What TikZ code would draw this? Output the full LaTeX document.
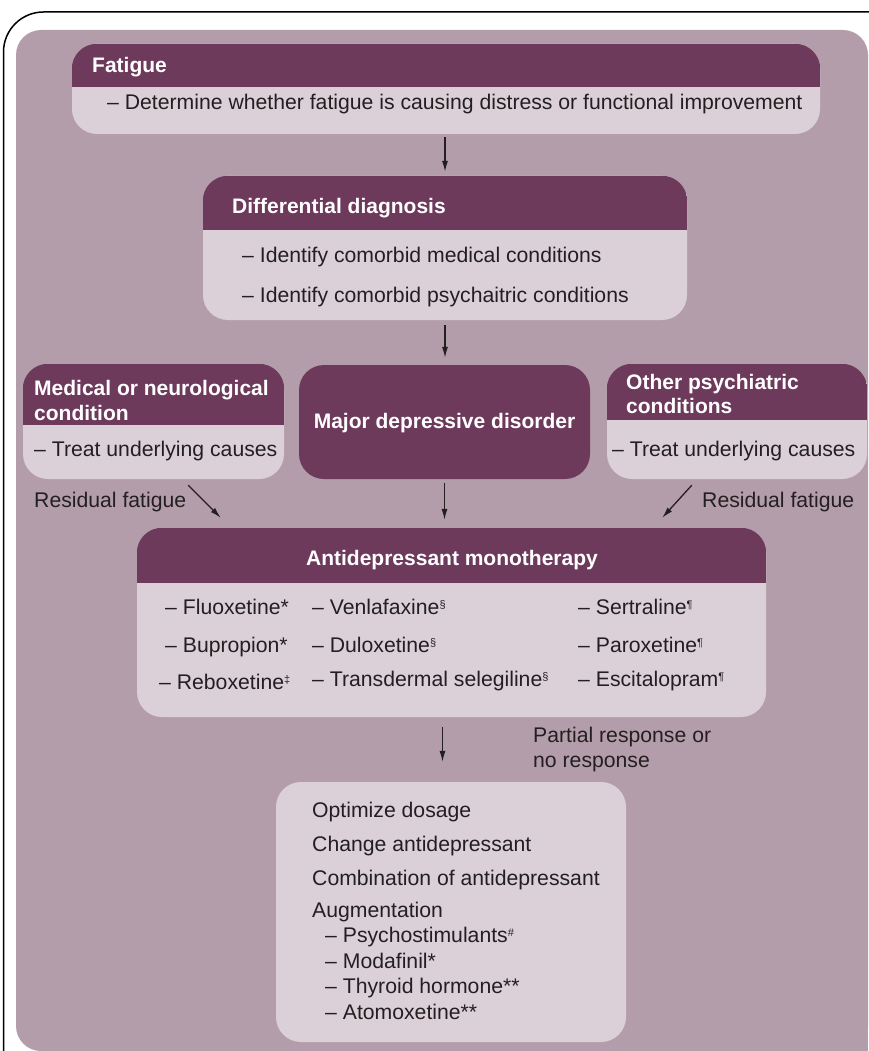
\documentclass[tikz,border=0pt]{standalone}
\usepackage{fontspec}
\setmainfont{Liberation Sans}
\usetikzlibrary{calc,arrows.meta}
\definecolor{box head}{RGB}{110,58,92}
\definecolor{box body}{RGB}{220,208,216}
\definecolor{panel}{RGB}{180,157,170}
\definecolor{ink}{RGB}{35,31,32}
\def\panelarea{(16,30) rectangle (868,1051)}
\tikzset{panelbox/.style={fill=box body, rounded corners=25pt, inner sep=0pt},
    darkbox/.style={fill=box head, rounded corners=25pt, inner sep=0pt},
    headtext/.style={text=white, font=\bfseries\fontsize{21}{25}\selectfont, anchor=base west, inner sep=0pt},
    bodytext/.style={text=ink, font=\fontsize{21.2}{25}\selectfont, anchor=base west, inner sep=0pt},
    link/.style={draw=ink, line width=1.3pt, -{Latex[length=11pt,width=6pt]}}}
% dark strip across the top of a box
\newcommand{\boxheader}[2]{%
    \begin{scope}
        \clip[rounded corners=25pt] (#1.north west) rectangle (#1.south east);
        \fill[box head] (#1.north west) rectangle ($(#1.north east)+(0,#2)$);
    \end{scope}}
% small raised footnote sign
\newcommand{\fnsign}[1]{\raisebox{5.5pt}{\fontsize{11}{11}\selectfont #1}}

\begin{document}
\begin{tikzpicture}[x=1pt,y=-1pt]
    \useasboundingbox (0,0) rectangle (868,1051);
    \fill[white] (0,0) rectangle (868,1051);
    \draw[line width=1.5pt, rounded corners=40pt] (3.5,1060) -- (3.5,12) -- (890,12);
    \fill[panel, rounded corners=25pt] \panelarea;
    \fill[panel] (820,1000) rectangle (868,1051);

    % boxes
    \node[panelbox, minimum width=748pt, minimum height=90pt]  (fatigue) at (446,89) {};
    \node[panelbox, minimum width=484pt, minimum height=144pt] (diff)    at (445,248) {};
    \node[panelbox, minimum width=261pt, minimum height=115pt] (medical) at (153.5,421.5) {};
    \node[darkbox,  minimum width=291pt, minimum height=114pt] (mdd)     at (444.5,422) {};
    \node[panelbox, minimum width=260pt, minimum height=115pt] (other)   at (737,421.5) {};
    \node[panelbox, minimum width=629pt, minimum height=189pt] (antidep) at (451.5,622.5) {};
    \node[panelbox, minimum width=350pt, minimum height=260pt] (options) at (451,912) {};
    \boxheader{fatigue}{43}
    \boxheader{diff}{54}
    \boxheader{medical}{61}
    \boxheader{other}{56}
    \boxheader{antidep}{55}

    % texts
    \node[headtext] (fatiguet) at (92,73) {Fatigue};
    \node[bodytext] (fatigueb) at (107,110) {-- Determine whether fatigue is causing distress or functional improvement};
    \node[headtext] (difft) at (232,213) {Differential diagnosis};
    \node[bodytext] (diffa) at (242,262) {-- Identify comorbid medical conditions};
    \node[bodytext] (diffb) at (242,302) {-- Identify comorbid psychaitric conditions};
    \node[headtext] (medicalt) at (34,395) {Medical or neurological};
    \node[headtext] (medicalu) at (34,420) {condition};
    \node[bodytext] (medicalb) at (34,456) {-- Treat underlying causes};
    \node[headtext, anchor=base] (mddt) at (444.5,428) {Major depressive disorder};
    \node[headtext] (othert) at (626,389) {Other psychiatric};
    \node[headtext] (otheru) at (626,413) {conditions};
    \node[bodytext] (otherb) at (612,456) {-- Treat underlying causes};
    \node[bodytext] (resleft) at (34,507) {Residual fatigue};
    \node[bodytext] (resright) at (702,507) {Residual fatigue};
    \node[headtext, anchor=base] (antidept) at (452,565) {Antidepressant monotherapy};
    \node[bodytext] (fluox) at (165,614) {-- Fluoxetine*};
    \node[bodytext] (bupro) at (165,652) {-- Bupropion*};
    \node[bodytext] (rebox) at (159,689) {-- Reboxetine\fnsign{\ddag}};
    \node[bodytext] (venla) at (312,614) {-- Venlafaxine\fnsign{\S}};
    \node[bodytext] (dulox) at (312,652) {-- Duloxetine\fnsign{\S}};
    \node[bodytext] (seleg) at (312,686) {-- Transdermal selegiline\fnsign{\S}};
    \node[bodytext] (sertr) at (578,614) {-- Sertraline\fnsign{\P}};
    \node[bodytext] (parox) at (578,652) {-- Paroxetine\fnsign{\P}};
    \node[bodytext] (escit) at (578,686) {-- Escitalopram\fnsign{\P}};
    \node[bodytext] (partial) at (533,742) {Partial response or};
    \node[bodytext] (nonresp) at (533,767) {no response};
    \node[bodytext] (optdose) at (312,817) {Optimize dosage};
    \node[bodytext] (change)  at (312,851) {Change antidepressant};
    \node[bodytext] (combi)   at (312,885) {Combination of antidepressant};
    \node[bodytext] (augm)    at (312,917) {Augmentation};
    \node[bodytext] (psycho)  at (325,942) {-- Psychostimulants\fnsign{\#}};
    \node[bodytext] (modaf)   at (325,968) {-- Modafinil*};
    \node[bodytext] (thyro)   at (325,993) {-- Thyroid hormone**};
    \node[bodytext] (atomo)   at (325,1019) {-- Atomoxetine**};

    % connectors
    \draw[link, shorten <=3pt, shorten >=4pt] (fatigue.south -| diff.north) -- (diff.north);
    \draw[link, shorten <=5pt, shorten >=7pt] (diff.south) -- (diff.south |- mdd.north);
    \draw[link, shorten <=4pt, shorten >=8pt] (mdd.south) -- (mdd.south |- antidep.north);
    \draw[link] ($(medical.south east)+(-96,6)$) -- ($(antidep.north west)+(84,-10)$);
    \draw[link] ($(other.south west)+(85,6)$) -- ($(antidep.north east)+(-104,-10)$);
    \draw[link, shorten <=10pt, shorten >=20pt] ([xshift=-9pt]antidep.south) -- ([xshift=-9pt]antidep.south |- options.north);
\end{tikzpicture}
\end{document}
